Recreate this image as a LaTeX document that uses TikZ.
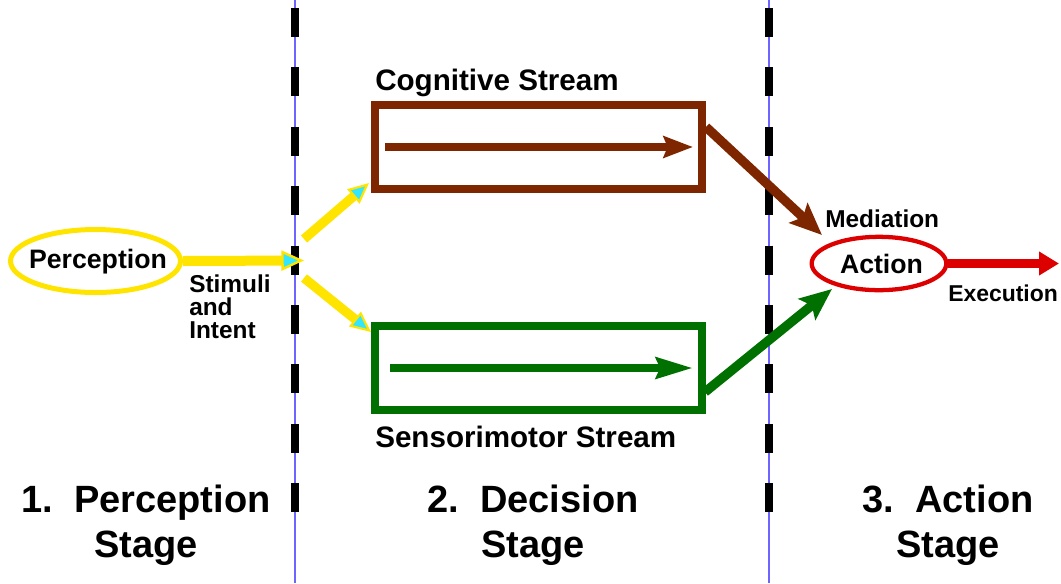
\documentclass[tikz,border=0pt]{standalone}
\usepackage{fontspec}
\setmainfont{Liberation Sans}
\usetikzlibrary{arrows.meta,shapes.geometric}

\definecolor{cogbrown}{RGB}{125,38,0}
\definecolor{sengreen}{RGB}{0,112,0}
\definecolor{percyellow}{RGB}{255,228,0}
\definecolor{tipcyan}{RGB}{51,230,255}
\definecolor{actred}{RGB}{221,0,0}
\definecolor{divblue}{RGB}{110,100,255}

\tikzset{
  lbl/.style={font=\bfseries\fontsize{18.3}{17.25}\selectfont, inner sep=0pt, align=left},
  streamlbl/.style={font=\bfseries\fontsize{22.2}{26}\selectfont, inner sep=0pt},
  stagelbl/.style={font=\bfseries\fontsize{28.5}{33.75}\selectfont, inner sep=0pt, align=center},
  ovaltext/.style={font=\bfseries\fontsize{20}{24}\selectfont, inner sep=0pt},
  streambox/.style={draw, rectangle, line width=6pt, minimum width=245.25pt, minimum height=63pt, inner sep=0pt},
  yellowarrow/.style={draw=percyellow, line width=7.5pt,
    -{Triangle[length=17pt, width=15pt, fill=tipcyan, line width=1.8pt]}},
  yellowbranch/.style={draw=percyellow, line width=7pt,
    -{Triangle[length=15.5pt, width=14pt, fill=tipcyan, line width=1.6pt]}},
  divider/.style={draw=divblue, line width=0.8pt},
  dashmark/.style={draw=black, line width=6pt},
  innerarrow/.style={line width=6pt},
  feedarrow/.style={line width=7pt, -{Stealth[length=24pt, width=20pt, inset=4.5pt]}},
}

\begin{document}
\begin{tikzpicture}[x=0.75pt,y=-0.75pt]
\useasboundingbox (0,0) rectangle (1061,583);

% stage dividers: thin blue rule with thick black dashes
\draw[divider] (295,0) -- (295,583);
\draw[divider] (769,0) -- (769,583);
\foreach \i in {0,...,8}{
  \draw[dashmark] (295,8+59.4*\i) -- (295,37+59.4*\i);
  \draw[dashmark] (769,8+59.4*\i) -- (769,37+59.4*\i);
}

% perception oval
\node[ellipse, draw=percyellow, line width=3.75pt, minimum width=127.5pt, minimum height=47.25pt, inner sep=0pt] (perc) at (95.5,261) {};
\node[ovaltext, anchor=base] (perctext) at (98,268) {Perception};

% action oval
\node[ellipse, draw=actred, line width=3.2pt, minimum width=101pt, minimum height=40pt, inner sep=0pt] (act) at (879,263.5) {};
\node[ovaltext, anchor=base] (acttext) at (881.5,273) {Action};

% decision streams
\node[streambox, draw=cogbrown] (cog) at (538,146.5) {};
\node[streambox, draw=sengreen] (sen) at (538,367.5) {};

% branch points and free ends
\coordinate (split) at (304,260.5);
\coordinate (upstart) at (304,239);
\coordinate (upend) at (369,183);
\coordinate (lowstart) at (304,278);
\coordinate (lowend) at (371,332);
\coordinate (cogin) at (385,147);
\coordinate (cogout) at (693,147);
\coordinate (senin) at (390,368);
\coordinate (senout) at (693,368);
\coordinate (cogcorner) at (706,127);
\coordinate (sencorner) at (705,392);
\coordinate (medtip) at (822,235);
\coordinate (exectip) at (832,289);
\coordinate (outtip) at (1059,263.5);

% perception to split
\draw[yellowarrow] (perc.east) -- (split);
\draw[yellowbranch] (upstart) -- (upend);
\draw[yellowbranch] (lowstart) -- (lowend);

% arrows inside the streams
\draw[cogbrown, innerarrow, -{Stealth[length=22pt, width=16pt, inset=3pt]}] (cogin) -- (cogout);
\draw[sengreen, innerarrow, -{Stealth[length=27.5pt, width=15.5pt, inset=3pt]}] (senin) -- (senout);

% streams into action
\draw[cogbrown, feedarrow] (cogcorner) -- (medtip);
\draw[sengreen, feedarrow] (sencorner) -- (exectip);

% action output
\draw[actred, line width=6.5pt, -{Triangle[length=15pt, width=17pt]}] (act.east) -- (outtip);

% labels
\node[lbl, anchor=base west] (stim) at (189,338) {Stimuli\\and\\Intent};
\node[lbl, anchor=base west] (med) at (825,227) {Mediation};
\node[lbl, anchor=base west, font=\bfseries\fontsize{17.2}{20}\selectfont] (exe) at (948,301) {Execution};
\node[streamlbl, anchor=base west] (coglbl) at (375,90) {Cognitive Stream};
\node[streamlbl, anchor=base west] (senlbl) at (375,447) {Sensorimotor Stream};

% stage titles
\node[stagelbl, anchor=base] (stage1) at (146,557) {1.\ \ Perception\\Stage};
\node[stagelbl, anchor=base] (stage2) at (533,557) {2.\ \ Decision\\Stage};
\node[stagelbl, anchor=base] (stage3) at (948,557) {3.\ \ Action\\Stage};
\end{tikzpicture}
\end{document}
